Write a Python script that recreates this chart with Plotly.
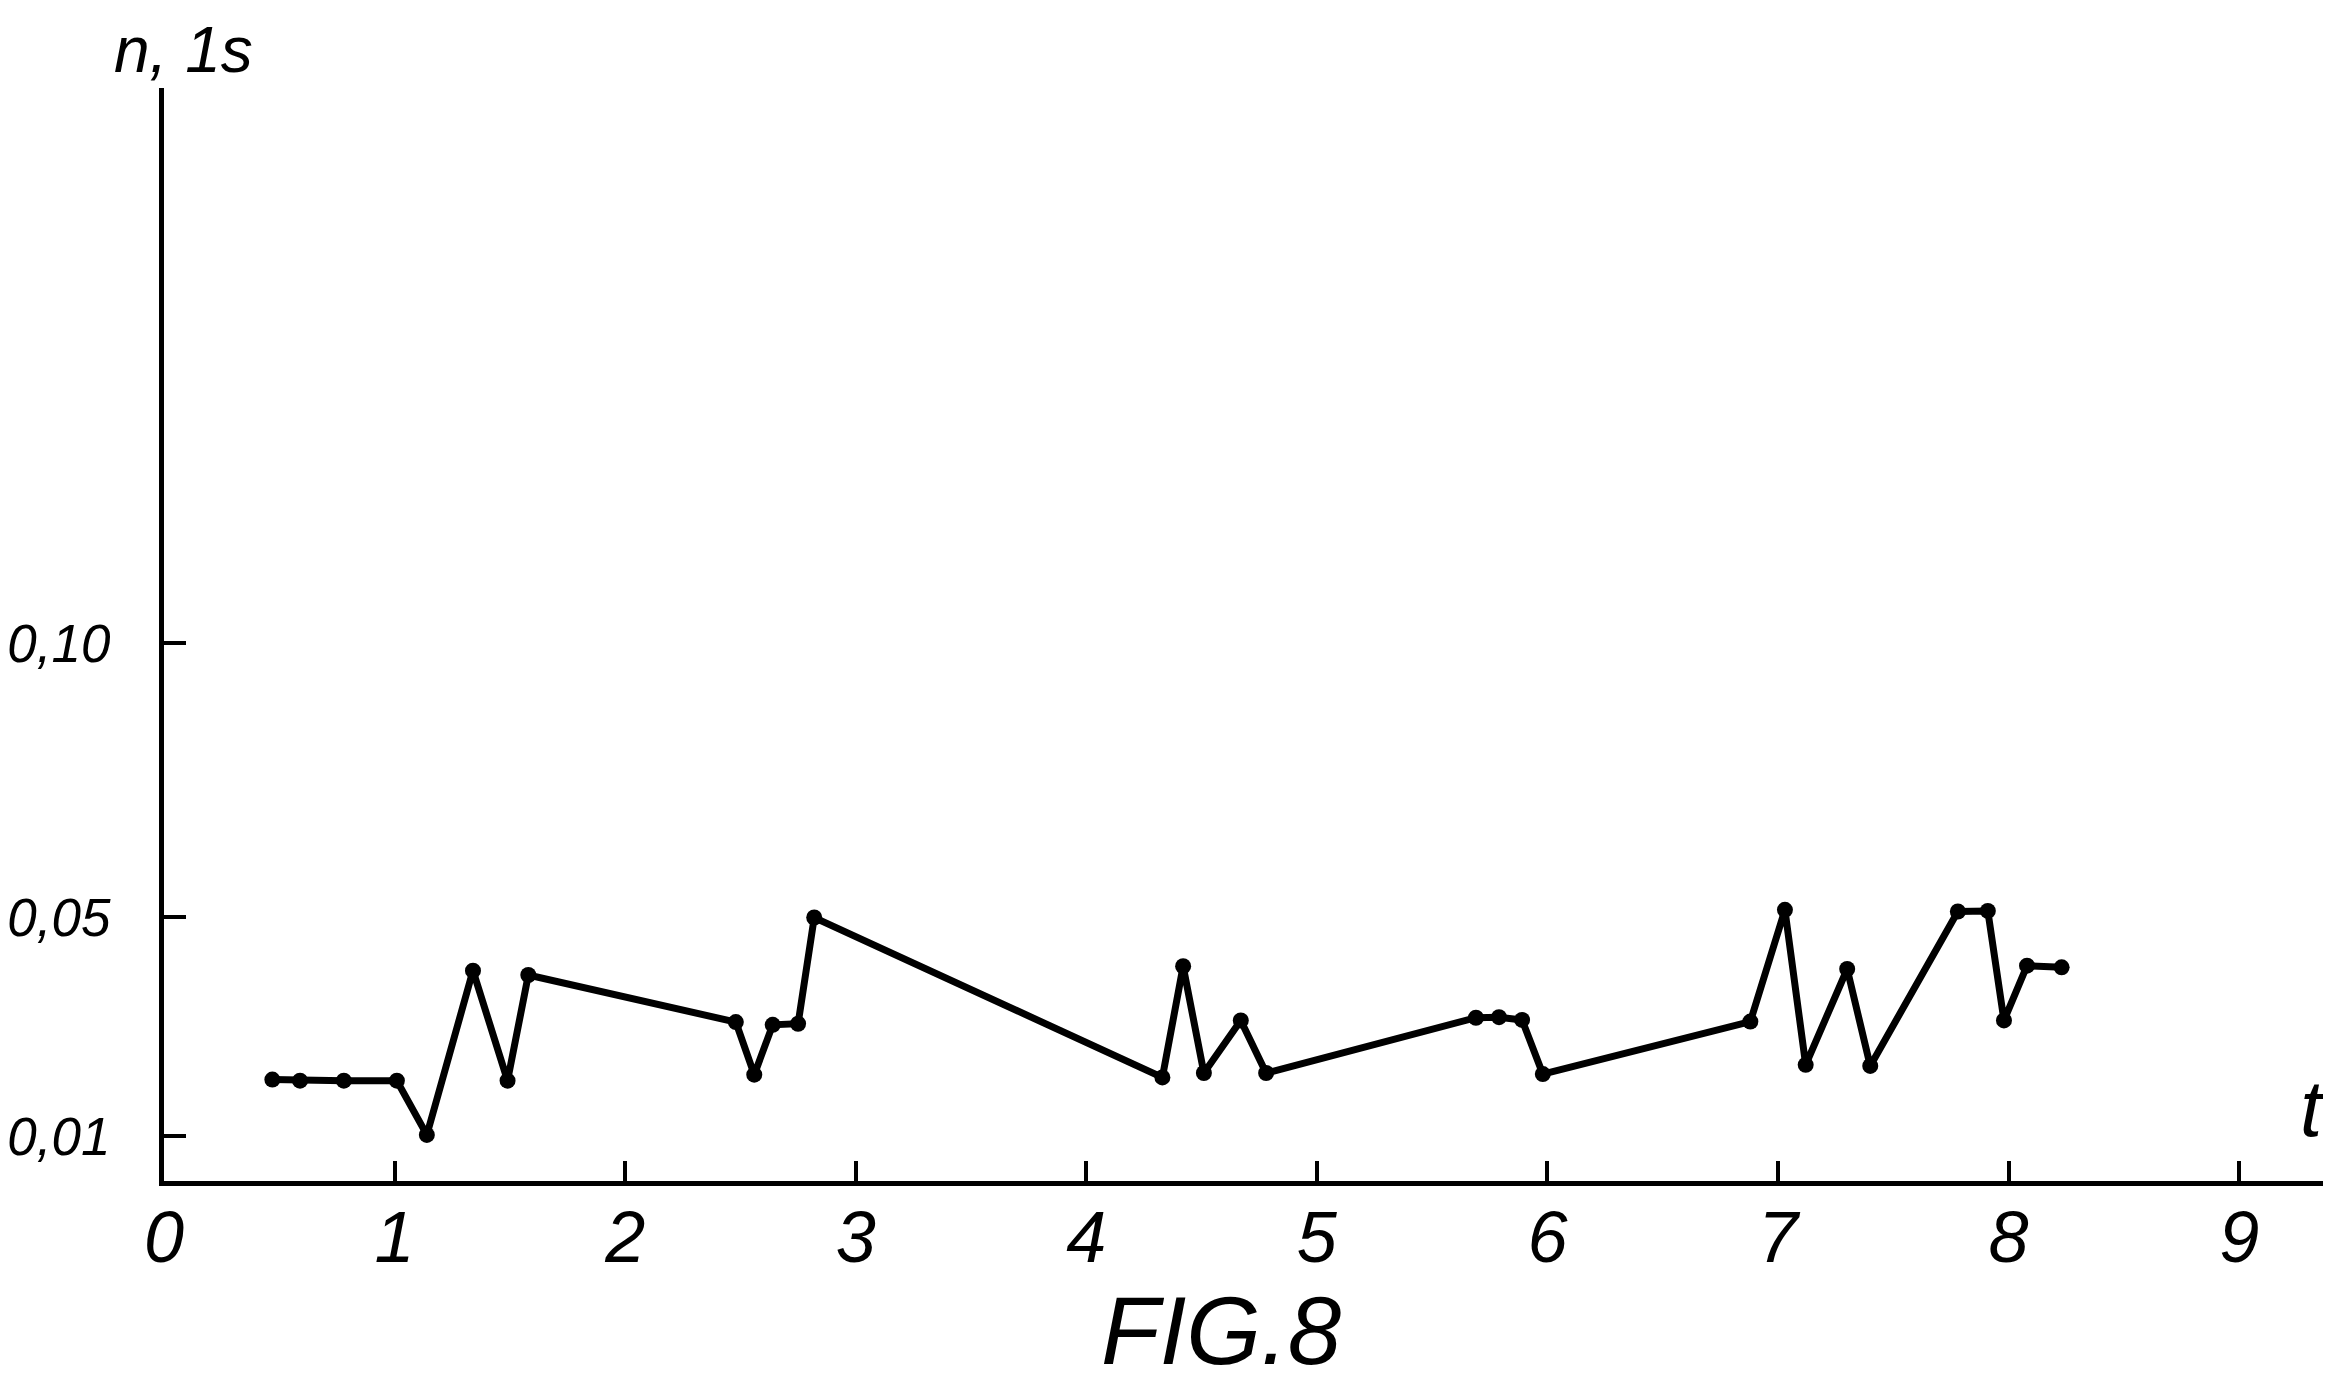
import plotly.graph_objects as go

# time t (piecewise between the drawn ticks)
t_values = [0.47, 0.59, 0.78, 1.01, 1.14, 1.34, 1.49, 1.58,
            2.48, 2.56, 2.64, 2.75, 2.82,
            4.33, 4.42, 4.51, 4.67, 4.78,
            5.69, 5.79, 5.89, 5.98,
            6.88, 7.03, 7.12, 7.30, 7.40, 7.78, 7.91, 7.98, 8.08, 8.23]
# n, 1s values
n_values = [0.0203, 0.0201, 0.0201, 0.0201, 0.0102, 0.0402, 0.0201, 0.0394,
            0.0308, 0.0212, 0.0303, 0.0305, 0.0499,
            0.0207, 0.0410, 0.0215, 0.0311, 0.0215,
            0.0316, 0.0317, 0.0312, 0.0213,
            0.0309, 0.0513, 0.0230, 0.0405, 0.0228, 0.0510, 0.0511, 0.0311, 0.0411, 0.0408]

x_tickvals = [0, 1, 2, 3, 4, 5, 6, 7, 8, 9]
x_ticktext = ["0", "1", "2", "3", "4", "5", "6", "7", "8", "9"]
y_tickvals = [0.01, 0.05, 0.10]
y_ticktext = ["0,01", "0,05", "0,10"]

FONT = "Liberation Sans, Arial, sans-serif"

fig = go.Figure()
fig.add_trace(go.Scatter(
    x=t_values, y=n_values, mode="lines+markers",
    line=dict(color="black", width=7),
    marker=dict(color="black", size=16),
    showlegend=False, hoverinfo="skip",
))

fig.update_layout(
    width=2331, height=1381,
    margin=dict(l=156, r=3, t=80, b=208),
    paper_bgcolor="white", plot_bgcolor="white",
    font=dict(family=FONT, color="black"),
)
fig.update_xaxes(
    range=[0, 9.42], showgrid=False, zeroline=False, automargin=False,
    showline=True, linecolor="black", linewidth=5,
    ticks="inside", ticklen=20, tickwidth=4, tickcolor="black",
    tickvals=x_tickvals, ticktext=x_ticktext,
    tickfont=dict(family=FONT, size=72, style="italic", color="black"),
    ticklabelstandoff=-10,
)
fig.update_yaxes(
    range=[0.00178, 0.2014], showgrid=False, zeroline=False, automargin=False,
    showline=True, linecolor="black", linewidth=5,
    ticks="inside", ticklen=22, tickwidth=4, tickcolor="black",
    tickvals=y_tickvals, ticktext=y_ticktext,
    tickfont=dict(family=FONT, size=53, style="italic", color="black"),
    ticklabelstandoff=38,
)

fig.add_annotation(text="n, 1s", xref="paper", yref="paper", x=0.0092, y=1.035,
                   xanchor="center", yanchor="middle", showarrow=False,
                   font=dict(family=FONT, size=64, style="italic", color="black"))
fig.add_annotation(text="t", xref="paper", yref="paper", x=0.9894, y=0.0659,
                   xanchor="center", yanchor="middle", showarrow=False,
                   font=dict(family=FONT, size=80, style="italic", color="black"))
fig.add_annotation(text="FIG.8", xref="paper", yref="paper", x=0.4866, y=-0.188,
                   xanchor="center", yanchor="bottom", showarrow=False,
                   font=dict(family=FONT, size=96, style="italic", color="black"))

fig.write_html("out.html")
